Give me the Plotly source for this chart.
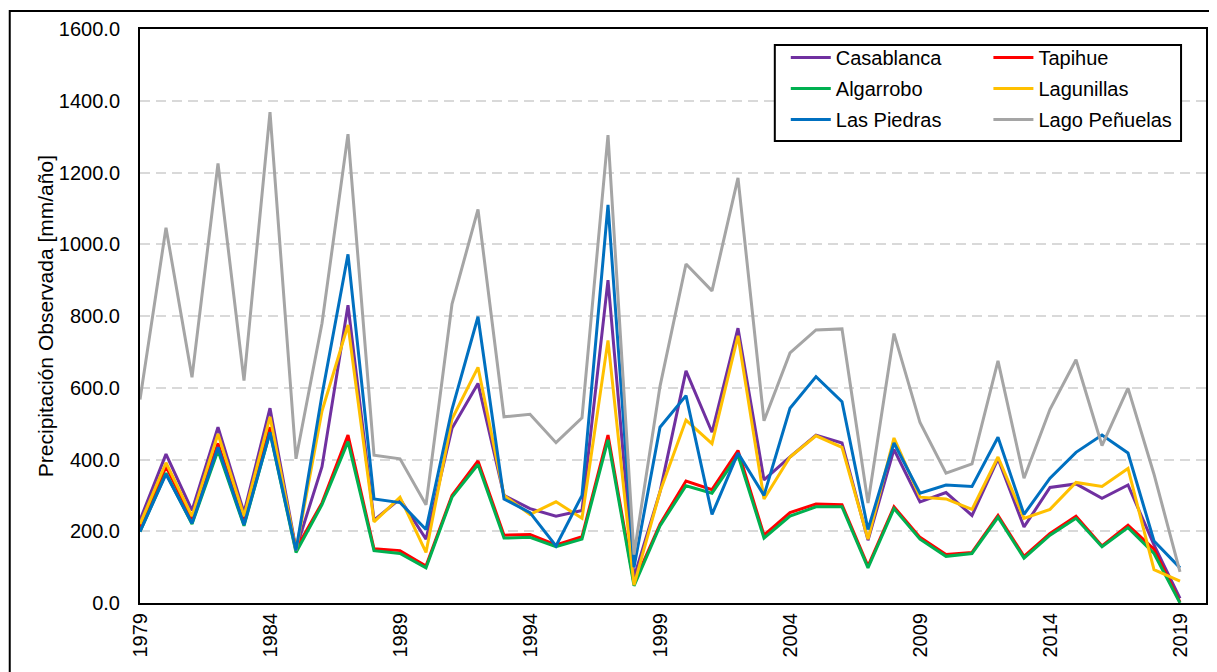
import plotly.graph_objects as go

years = list(range(1979, 2020))

casablanca = [231, 415, 258, 490, 252, 543, 150, 380, 830, 231, 290, 178, 487, 612, 300, 263, 242, 258, 900, 71,
              310, 647, 476, 766, 343, 407, 468, 446, 175, 428, 282, 308, 244, 402, 212, 322, 332, 292, 329, 162, 13]
tapihue = [210, 380, 235, 445, 225, 490, 150, 279, 468, 151, 146, 103, 300, 396, 189, 191, 162, 185, 468, 55,
           220, 340, 316, 425, 189, 252, 276, 274, 103, 268, 183, 135, 141, 244, 130, 194, 242, 159, 217, 150, 2]
algarrobo = [199, 362, 220, 425, 215, 475, 141, 274, 450, 146, 138, 98, 295, 386, 181, 183, 157, 178, 455, 48,
             215, 327, 306, 412, 181, 242, 268, 268, 98, 263, 178, 130, 138, 239, 125, 189, 236, 157, 210, 138, 0]
lagunillas = [220, 391, 242, 471, 242, 519, 146, 535, 775, 226, 295, 141, 513, 657, 300, 247, 282, 236, 732, 50,
              310, 510, 444, 745, 290, 407, 466, 434, 178, 460, 295, 290, 261, 407, 236, 261, 336, 325, 375, 93, 61]
las_piedras = [199, 359, 222, 434, 218, 476, 146, 580, 972, 290, 280, 205, 540, 798, 290, 252, 159, 300, 1110, 100,
               490, 578, 247, 418, 300, 543, 631, 561, 205, 446, 306, 329, 325, 462, 247, 348, 420, 468, 418, 173, 98]
lago_penuelas = [567, 1046, 629, 1225, 620, 1368, 402, 780, 1307, 412, 402, 274, 833, 1097, 519, 526, 447, 516, 1304, 135,
                 604, 945, 870, 1185, 508, 697, 761, 764, 279, 751, 503, 362, 388, 675, 348, 540, 678, 439, 599, 359, 87]

series_names = ["Casablanca", "Tapihue", "Algarrobo", "Lagunillas", "Las Piedras", "Lago Peñuelas"]
series_values = [casablanca, tapihue, algarrobo, lagunillas, las_piedras, lago_penuelas]
series_colors = ["#7030A0", "#FF0000", "#00B050", "#FFC000", "#0070C0", "#A5A5A5"]
series_legend = ["legend", "legend2", "legend", "legend2", "legend", "legend2"]

x_tickvals = list(range(1979, 2020, 5))
y_tickvals = list(range(0, 1601, 200))

FONT = "Liberation Sans, Arial, sans-serif"
FS = 20

# page has an 8px body margin; plot area in window pixels: x 140..1208, y 29..603
PW, PH = 1068, 574


def px(wx):
    return (wx - 140) / PW


def py(wy):
    return (603 - wy) / PH


fig = go.Figure()
for name, vals, col, lg in zip(series_names, series_values, series_colors, series_legend):
    fig.add_trace(go.Scatter(x=years, y=vals, mode="lines", name=name, legendgroup=name,
                             line=dict(color=col, width=3), legend=lg))

leg_common = dict(yanchor="top", xanchor="left", bgcolor="rgba(0,0,0,0)",
                  font=dict(size=FS, family=FONT, color="black"), itemwidth=40, tracegroupgap=2)

fig.update_layout(
    width=1209, height=664,
    margin=dict(l=132, r=9, t=21, b=69),
    paper_bgcolor="white", plot_bgcolor="white",
    font=dict(family=FONT, size=FS, color="black"),
    showlegend=True,
    legend=dict(x=px(787), y=py(38), **leg_common),
    legend2=dict(x=px(990), y=py(38), **leg_common),
    xaxis=dict(range=[1979, 2020], tickvals=x_tickvals, ticktext=[str(v) for v in x_tickvals],
               tickangle=-90, showgrid=False, zeroline=False, showline=True, mirror=True,
               linecolor="black", linewidth=2, ticks="", tickfont=dict(size=FS)),
    yaxis=dict(range=[0, 1600], tickvals=y_tickvals, tickformat=".1f",
               showgrid=True, gridcolor="#D9D9D9", gridwidth=1.5, griddash="10px,6px",
               zeroline=False, showline=True, mirror=True, linecolor="black", linewidth=2,
               ticks="", tickfont=dict(size=FS), ticklabelstandoff=14),
    annotations=[dict(text="Precipitación Observada [mm/año]", xref="paper", yref="paper",
                      x=px(45), y=0.5, textangle=-90, showarrow=False,
                      xanchor="center", yanchor="middle", font=dict(size=21, color="black"))],
    shapes=[
        dict(type="rect", xref="paper", yref="paper", x0=px(776), x1=px(1183),
             y0=py(141), y1=py(45), line=dict(color="black", width=2),
             fillcolor="white", layer="above"),
        dict(type="rect", xref="paper", yref="paper", x0=px(9.5), x1=px(1240),
             y0=py(700), y1=py(11), line=dict(color="black", width=2), layer="above"),
    ],
)

fig.write_html("out.html")
